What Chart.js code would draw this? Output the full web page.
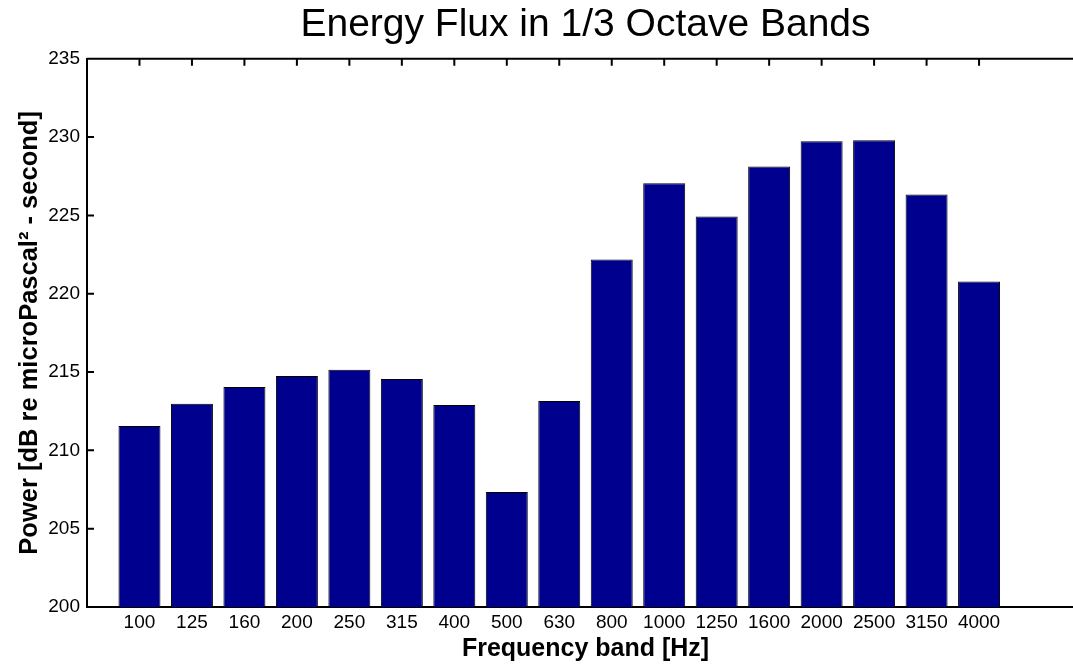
<!DOCTYPE html>
<html lang="en">
<head>
  <meta charset="UTF-8">
  <title>Energy Flux in 1/3 Octave Bands</title>
  <script src="https://cdn.jsdelivr.net/npm/chart.js"></script>
  <style>
    html, body {
      margin: 0;
      padding: 0;
      background: #fff;
      overflow: hidden;
    }

    /* window is 1073 wide; the plot box runs off the right edge like the original */
    .viewport {
      width: 1073px;
      height: 664px;
      overflow: hidden;
    }

    canvas {
      display: block;
    }
  </style>
</head>
<body>
  <div class="viewport">
    <canvas id="fluxChart" width="1084" height="664"></canvas>
  </div>

  <script>
    // 1/3 octave band centre frequencies (Hz)
    const bandLabels = ['100', '125', '160', '200', '250', '315', '400', '500', '630',
                        '800', '1000', '1250', '1600', '2000', '2500', '3150', '4000'];

    // Energy flux per band (dB re microPascal^2 - second)
    const powerDb = [211.56, 212.98, 214.05, 214.75, 215.14, 214.56, 212.90, 207.34, 213.16,
                     222.18, 227.06, 224.93, 228.12, 229.74, 229.80, 226.33, 220.78];

    // axis limits
    const yMin = 200;
    const yMax = 235;
    const yStep = 5;
    const xMin = 0;
    const xMax = 19;

    const fontFamily = '"Liberation Sans", Arial, sans-serif';

    // MATLAB style box: top edge plus inward tick marks
    const frameTicks = {
      id: 'frameTicks',
      beforeDatasetsDraw(chart) {
        const { ctx, chartArea: a, scales: { x, y } } = chart;
        ctx.save();
        ctx.strokeStyle = '#000';
        ctx.lineWidth = 2;
        ctx.beginPath();
        y.ticks.forEach(t => {
          const py = y.getPixelForValue(t.value);
          ctx.moveTo(a.left, py);
          ctx.lineTo(a.left + 7, py);
        });
        bandLabels.forEach((_, i) => {
          const px = x.getPixelForValue(i + 1);
          ctx.moveTo(px, a.top);
          ctx.lineTo(px, a.top + 7);
          ctx.moveTo(px, a.bottom);
          ctx.lineTo(px, a.bottom - 7);
        });
        ctx.moveTo(a.left, a.top);
        ctx.lineTo(a.right, a.top);
        ctx.stroke();
        ctx.restore();
      }
    };

    const points = powerDb.map((v, i) => ({ x: i + 1, y: v }));

    new Chart(document.getElementById('fluxChart'), {
      type: 'bar',
      data: {
        datasets: [{
          data: points,
          backgroundColor: '#00008F',
          borderColor: '#000',
          borderWidth: 1,
          barPercentage: 0.8,
          categoryPercentage: 1.0
        }]
      },
      options: {
        responsive: false,
        animation: false,
        layout: { padding: { left: 0, right: 0, top: 0, bottom: 0 } },
        plugins: {
          legend: { display: false },
          tooltip: { enabled: false },
          title: {
            display: true,
            text: 'Energy Flux in 1/3 Octave Bands',
            fullSize: false,
            color: '#000',
            font: { family: fontFamily, size: 39, weight: 'normal' },
            padding: { top: 2, bottom: 10 }
          }
        },
        scales: {
          x: {
            type: 'linear',
            min: xMin,
            max: xMax,
            offset: false,
            grid: { display: false, drawTicks: false },
            border: { display: true, color: '#000', width: 2 },
            afterBuildTicks: scale => {
              scale.ticks = bandLabels.map((_, i) => ({ value: i + 1 }));
            },
            afterFit: scale => { scale.height = 57; },
            ticks: {
              autoSkip: false,
              maxRotation: 0,
              padding: 4,
              color: '#000',
              font: { family: fontFamily, size: 19 },
              callback: value => bandLabels[value - 1] || ''
            },
            title: {
              display: true,
              text: 'Frequency band [Hz]',
              color: '#000',
              font: { family: fontFamily, size: 25, weight: 'bold' },
              padding: { top: 0, bottom: 0 }
            }
          },
          y: {
            min: yMin,
            max: yMax,
            grid: { display: false, drawTicks: false },
            border: { display: true, color: '#000', width: 2 },
            afterFit: scale => { scale.width = 87; },
            ticks: {
              stepSize: yStep,
              padding: 7,
              color: '#000',
              font: { family: fontFamily, size: 19 }
            },
            title: {
              display: true,
              text: 'Power [dB re microPascal\u00B2 - second]',
              color: '#000',
              font: { family: fontFamily, size: 25.5, weight: 'bold' },
              padding: { top: 15, bottom: 0 }
            }
          }
        }
      },
      plugins: [frameTicks]
    });
  </script>
</body>
</html>
